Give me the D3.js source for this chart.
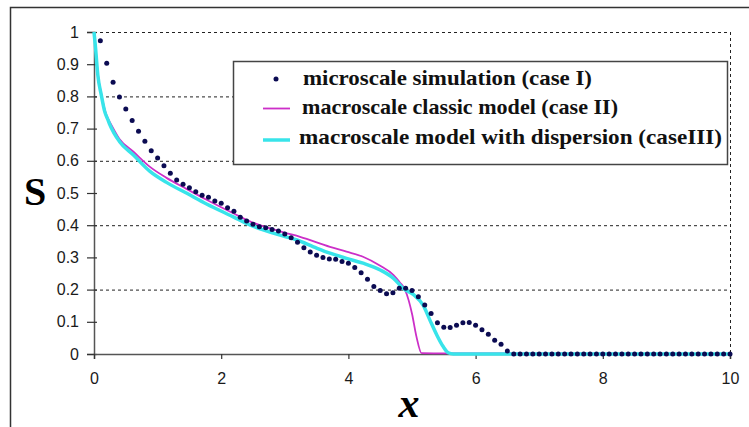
<!DOCTYPE html>
<html><head><meta charset="utf-8">
<script src="https://cdn.jsdelivr.net/npm/d3@7/dist/d3.min.js"></script>
<style>body{margin:0;background:#fff}svg{display:block}</style>
</head><body>
<svg id="c" width="749" height="427"></svg>
<script>
// microscale simulation (case I) dots, x = 0.1 .. 10 step 0.1
const microX = [0.1,0.2,0.3,0.4,0.5,0.6,0.7,0.8,0.9,1.0,1.1,1.2,1.3,1.4,1.5,1.6,1.7,1.8,1.9,2.0,
  2.1,2.2,2.3,2.4,2.5,2.6,2.7,2.8,2.9,3.0,3.1,3.2,3.3,3.4,3.5,3.6,3.7,3.8,3.9,4.0,
  4.1,4.2,4.3,4.4,4.5,4.6,4.7,4.8,4.9,5.0,5.1,5.2,5.3,5.4,5.5,5.6,5.7,5.8,5.9,6.0,
  6.1,6.2,6.3,6.4,6.5,6.6,6.7,6.8,6.9,7.0,7.1,7.2,7.3,7.4,7.5,7.6,7.7,7.8,7.9,8.0,
  8.1,8.2,8.3,8.4,8.5,8.6,8.7,8.8,8.9,9.0,9.1,9.2,9.3,9.4,9.5,9.6,9.7,9.8,9.9,10.0];
const microS = [0.973,0.903,0.844,0.798,0.761,0.725,0.692,0.661,0.631,0.609,0.585,0.561,0.540,0.527,0.516,0.504,0.493,0.487,0.475,0.468,
  0.454,0.443,0.425,0.413,0.403,0.395,0.392,0.387,0.382,0.373,0.361,0.347,0.330,0.317,0.307,0.300,0.295,0.294,0.287,0.282,
  0.269,0.252,0.232,0.210,0.197,0.187,0.190,0.204,0.204,0.197,0.178,0.152,0.126,0.097,0.083,0.082,0.089,0.097,0.098,0.089,
  0.075,0.061,0.043,0.030,0.009,0,0,0,0,0,0,0,0,0,0,0,0,0,0,0,
  0,0,0,0,0,0,0,0,0,0,0,0,0,0,0,0,0,0,0,0];
// macroscale classic model (case II)
const classicX = [0,0.02,0.06,0.115,0.17,0.22,0.25,0.4,0.62,0.88,1.14,1.46,1.77,2.19,2.45,2.98,3.24,3.71,3.97,4.23,4.50,4.71,4.81,4.89,4.95,5.0,5.07,5.15,5.6,10];
const classicS = [1,0.962,0.87,0.808,0.758,0.731,0.72,0.668,0.628,0.581,0.547,0.512,0.479,0.437,0.412,0.378,0.364,0.333,0.318,0.302,0.274,0.245,0.222,0.2,0.165,0.125,0.054,0.003,0.002,0];
// macroscale model with dispersion (case III)
const dispX = [0,0.02,0.06,0.115,0.17,0.22,0.25,0.4,0.62,0.88,1.14,1.46,1.77,2.19,2.45,2.98,3.19,3.45,3.71,3.97,4.23,4.50,4.71,4.86,5.02,5.18,5.28,5.39,5.49,5.57,5.65,10];
const dispS = [1,0.96,0.866,0.804,0.752,0.727,0.712,0.66,0.618,0.567,0.533,0.499,0.466,0.426,0.401,0.366,0.354,0.333,0.313,0.297,0.282,0.261,0.235,0.204,0.185,0.15,0.106,0.059,0.023,0.004,0,0];

const xTicks = [0,2,4,6,8,10];
const yTicks = [0,0.1,0.2,0.3,0.4,0.5,0.6,0.7,0.8,0.9,1];
const gridVals = [0.2,0.4,0.6,0.8,1];
const legendLabels = ["microscale simulation (case I)","macroscale classic model (case II)","macroscale model with dispersion (caseIII)"];

const svg = d3.select("#c");
const x = d3.scaleLinear().domain([0,10]).range([94,730]);
const y = d3.scaleLinear().domain([0,1]).range([354,32]);

// outer frame
svg.append("rect").attr("x",10.5).attr("y",7.5).attr("width",760).attr("height",440)
  .attr("fill","none").attr("stroke","#333").attr("stroke-width",1.5);

// grid
svg.append("g").selectAll("line").data(gridVals).join("line")
  .attr("x1",x(0)).attr("x2",x(10)).attr("y1",d=>y(d)+0.5).attr("y2",d=>y(d)+0.5)
  .attr("stroke","#222").attr("stroke-width",1).attr("stroke-dasharray","3,3");
svg.append("line").attr("x1",x(10)+0.5).attr("x2",x(10)+0.5).attr("y1",y(1)).attr("y2",y(0))
  .attr("stroke","#222").attr("stroke-width",1).attr("stroke-dasharray","3,3");

// axes
const fmt = d => d===0 ? "0" : d===1 ? "1" : d3.format(".1f")(d);
const ya = svg.append("g").attr("transform",`translate(${x(0)},0)`)
  .call(d3.axisLeft(y).tickValues(yTicks).tickFormat(fmt).tickSizeOuter(0).tickSize(7).tickPadding(8));
ya.selectAll(".tick line").attr("x2",-7).attr("x1",3);
const xa = svg.append("g").attr("transform",`translate(0,${y(0)})`)
  .call(d3.axisBottom(x).tickValues(xTicks).tickFormat(d3.format("d")).tickSizeOuter(0).tickSize(5).tickPadding(14));
[ya,xa].forEach(a=>{
  a.select(".domain").attr("stroke","#555").attr("stroke-width",1.5);
  a.selectAll(".tick line").attr("stroke","#333").attr("stroke-width",1.2);
  a.selectAll("text").attr("font-family","'Liberation Sans', Arial, sans-serif").attr("font-size",16).attr("fill","#1a1a1a");
});

// lines
const line = d3.line().x(d=>x(d[0])).y(d=>y(d[1])).curve(d3.curveMonotoneX);
svg.append("path").datum(classicX.map((v,i)=>[v,classicS[i]])).attr("d",line)
  .attr("fill","none").attr("stroke","#cc2fc8").attr("stroke-width",1.8);
svg.append("path").datum(dispX.map((v,i)=>[v,dispS[i]])).attr("d",line)
  .attr("fill","none").attr("stroke","#38e4ea").attr("stroke-width",3.5);

// dots
svg.append("g").selectAll("circle").data(microX.map((v,i)=>[v,microS[i]])).join("circle")
  .attr("cx",d=>x(d[0])).attr("cy",d=>y(d[1])).attr("r",2.5).attr("fill","#0b0b52");

// axis titles
svg.append("text").attr("x",35).attr("y",205).attr("text-anchor","middle")
  .attr("font-family","'Liberation Serif', 'Times New Roman', serif").attr("font-weight","bold")
  .attr("font-size",40).text("S");
svg.append("text").attr("x",409).attr("y",417).attr("text-anchor","middle")
  .attr("font-family","'Liberation Serif', 'Times New Roman', serif").attr("font-weight","bold")
  .attr("font-style","italic").attr("font-size",42).text("x");

// legend
const lg = svg.append("g");
lg.append("rect").attr("x",233.5).attr("y",61.5).attr("width",494).attr("height",103)
  .attr("fill","#fff").attr("stroke","#444").attr("stroke-width",1.5);
lg.append("circle").attr("cx",276).attr("cy",79).attr("r",2.5).attr("fill","#0b0b52");
lg.append("line").attr("x1",263).attr("x2",290).attr("y1",108.5).attr("y2",108.5).attr("stroke","#cc2fc8").attr("stroke-width",1.8);
lg.append("line").attr("x1",263).attr("x2",290).attr("y1",140).attr("y2",140).attr("stroke","#38e4ea").attr("stroke-width",3.5);
const lx = [303,302,299], ly = [85,114,144], lw = [289,316,423];
legendLabels.forEach((t,i)=>{
  lg.append("text").attr("x",lx[i]).attr("y",ly[i])
    .attr("font-family","'Liberation Serif', 'Times New Roman', serif").attr("font-weight","bold")
    .attr("font-size",22).attr("fill","#111")
    .attr("textLength",lw[i]).attr("lengthAdjust","spacingAndGlyphs").text(t);
});
</script>
</body></html>
